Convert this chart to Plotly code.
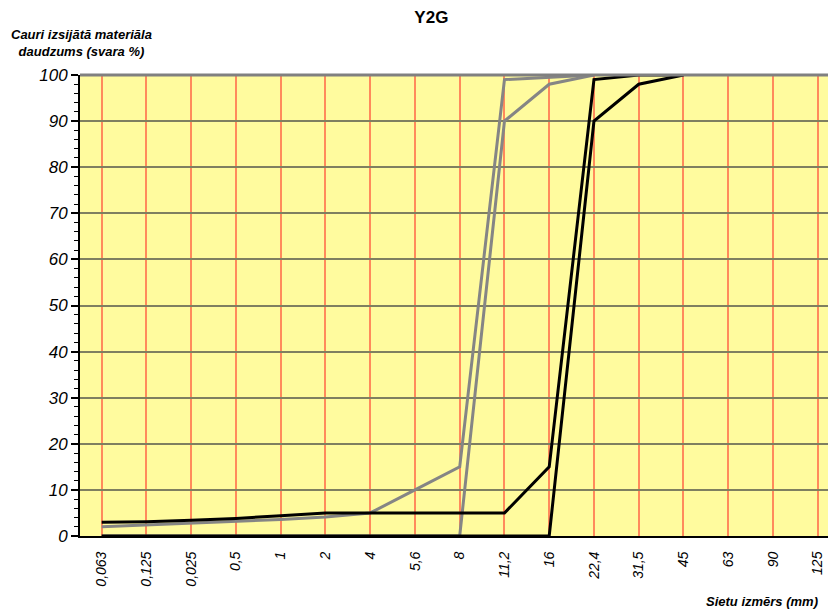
import plotly.graph_objects as go

categories = ["0,063", "0,125", "0,025", "0,5", "1", "2", "4", "5,6", "8",
              "11,2", "16", "22,4", "31,5", "45", "63", "90", "125"]

grey_upper = [2, 2.4, 2.8, 3.1, 3.6, 4.1, 5, 10, 15, 99, 99.5, 100]
grey_lower = [0, 0, 0, 0, 0, 0, 0, 0, 0, 90, 98, 100]
black_upper = [3, 3.1, 3.4, 3.8, 4.4, 5, 5, 5, 5, 5, 15, 99, 100, 100]
black_lower = [0, 0, 0, 0, 0, 0, 0, 0, 0, 0, 0, 90, 98, 100]

y_ticks = [0, 10, 20, 30, 40, 50, 60, 70, 80, 90, 100]

FONT = "Liberation Sans, Arial, sans-serif"
GREY = "#858585"
BLACK = "#000000"

fig = go.Figure()
for vals, col in [(grey_lower, GREY), (grey_upper, GREY),
                  (black_lower, BLACK), (black_upper, BLACK)]:
    fig.add_trace(go.Scatter(
        x=categories[:len(vals)], y=vals, mode="lines",
        line=dict(color=col, width=3), showlegend=False, hoverinfo="skip"))

fig.update_layout(
    width=828, height=612,
    margin=dict(l=80, r=0, t=75, b=76),
    paper_bgcolor="white",
    plot_bgcolor="#FFFB9E",
    font=dict(family=FONT, color="#000000"),
    title=dict(text="<b>Y2G</b>", x=0.521, xanchor="center", y=0.972,
               yanchor="middle", font=dict(size=17, family=FONT)),
)

fig.update_xaxes(
    type="category", categoryorder="array", categoryarray=categories,
    range=[-0.485, 16.23],
    tickmode="array", tickvals=categories, ticktext=categories,
    tickangle=-90, tickfont=dict(size=14, family=FONT, style="italic"),
    ticks="", ticklabelstandoff=8,
    showgrid=True, gridcolor="#FF8A5C", gridwidth=2,
    showline=True, linecolor="#000000", linewidth=2,
    zeroline=False, automargin=False,
)
fig.update_yaxes(
    range=[0, 100], tickmode="array", tickvals=y_ticks,
    tickfont=dict(size=17, family=FONT, style="italic"),
    ticks="outside", ticklen=7, tickwidth=2, tickcolor="#000000",
    minor=dict(dtick=2, ticks="outside", ticklen=4, tickwidth=1,
               tickcolor="#000000", showgrid=False),
    showgrid=True, gridcolor="#7F7F60", gridwidth=2,
    showline=True, linecolor="#000000", linewidth=2,
    zeroline=False, automargin=False,
)

# top border of plot area
fig.add_shape(type="line", xref="paper", yref="paper", x0=0, x1=1, y0=1, y1=1,
              line=dict(color="#808080", width=3))

fig.add_annotation(
    text="<b><i>Cauri izsijātā materiāla<br>daudzums (svara %)</i></b>",
    xref="paper", yref="paper", x=0.0, y=1.0, xanchor="center", yanchor="bottom",
    xshift=1, yshift=14, showarrow=False, align="center",
    font=dict(size=13, family=FONT, color="#000000"))

fig.add_annotation(
    text="<b><i>Sietu izmērs (mm)</i></b>",
    xref="paper", yref="paper", x=1.0, y=0.0, xanchor="right", yanchor="top",
    xshift=-8, yshift=-56, showarrow=False,
    font=dict(size=13, family=FONT, color="#000000"))

fig.write_html(
    "out.html",
    config={"displayModeBar": False},
    post_script="document.body.style.margin='0';"
                "document.body.style.overflow='hidden';"
                "document.documentElement.style.overflow='hidden';",
)
